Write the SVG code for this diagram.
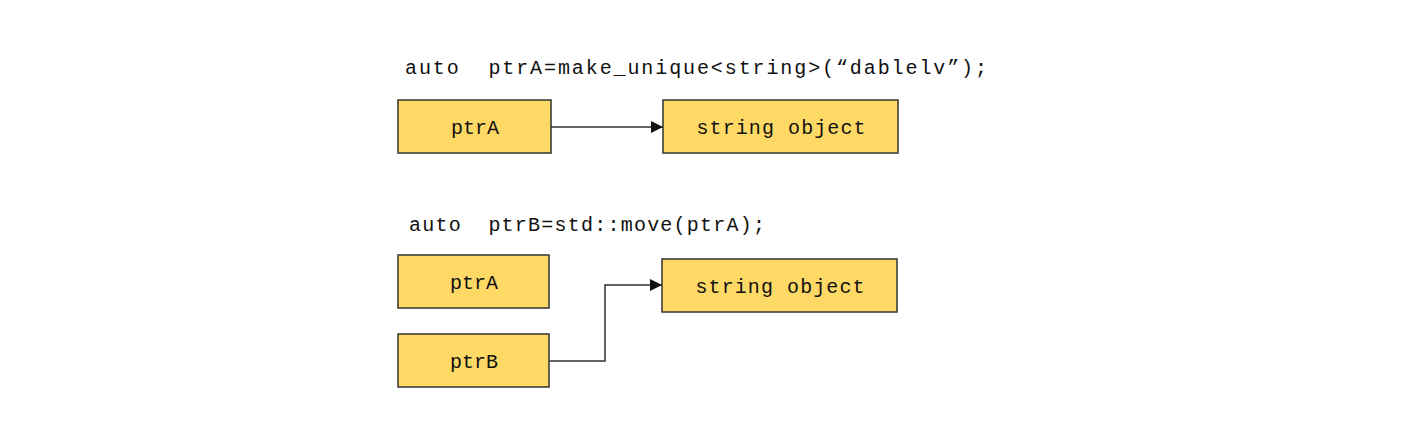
<svg xmlns="http://www.w3.org/2000/svg" width="1420" height="436" viewBox="0 0 1420 436">
<style>
.box{fill:#FFD966;stroke:#333;stroke-width:1.5}
.t{font-family:"Liberation Mono","DejaVu Sans Mono",monospace;font-size:20px;fill:#111;white-space:pre}
.c{text-anchor:middle}
.ln{fill:none;stroke:#333;stroke-width:1.5}
</style>
<defs>
<marker id="ah" viewBox="0 0 12 12" refX="12" refY="6" markerWidth="12" markerHeight="12" markerUnits="userSpaceOnUse" orient="auto">
<path d="M0,0 L12,6 L0,12 z" fill="#111"/>
</marker>
</defs>
<rect width="1420" height="436" fill="#fff"/>
<text class="t" x="405" y="74" textLength="582" lengthAdjust="spacing" xml:space="preserve">auto  ptrA=make_unique&lt;string&gt;(“dablelv”);</text>
<text class="t" x="409" y="231" textLength="356" lengthAdjust="spacing" xml:space="preserve">auto  ptrB=std::move(ptrA);</text>
<g id="ptrA1"><rect class="box" x="398" y="100" width="153" height="53"/><text class="t c" x="475" y="134">ptrA</text></g>
<g id="str1"><rect class="box" x="663" y="100" width="235" height="53"/><text class="t c" x="781" y="134" textLength="169" lengthAdjust="spacing">string object</text></g>
<g id="ptrA2"><rect class="box" x="398" y="255" width="151" height="53"/><text class="t c" x="474" y="289">ptrA</text></g>
<g id="str2"><rect class="box" x="662" y="259" width="235" height="53"/><text class="t c" x="780" y="293" textLength="169" lengthAdjust="spacing">string object</text></g>
<g id="ptrB"><rect class="box" x="398" y="334" width="151" height="53"/><text class="t c" x="474" y="368">ptrB</text></g>
<g id="connectors">
<path class="ln" d="M551,127 H663" marker-end="url(#ah)"/>
<path class="ln" d="M549,361 H605 V285 H662" marker-end="url(#ah)"/>
</g>
</svg>
